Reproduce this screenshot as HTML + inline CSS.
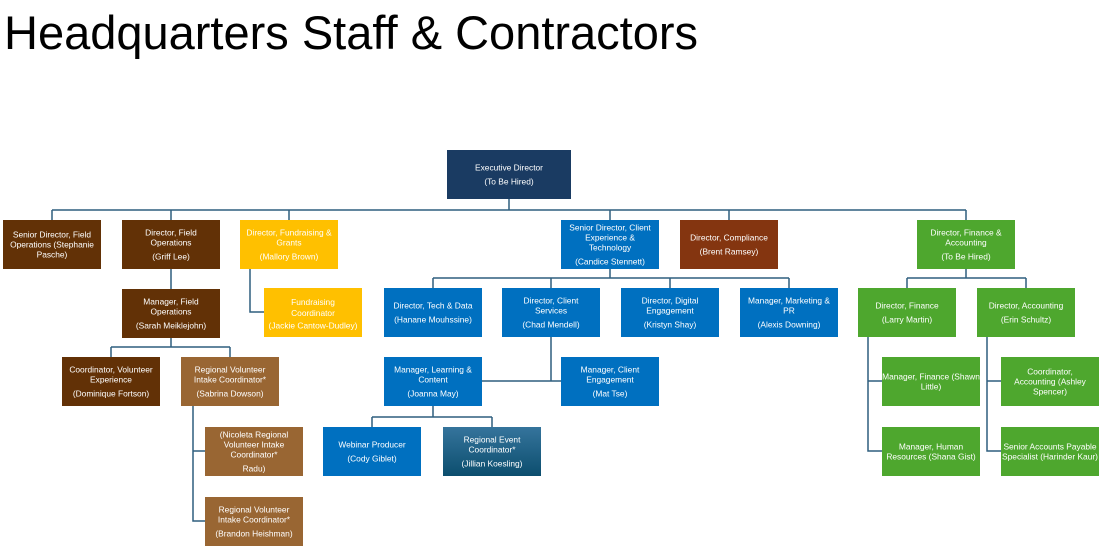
<!DOCTYPE html>
<html><head><meta charset="utf-8"><style>
html,body{margin:0;padding:0;background:#fff;width:1107px;height:553px;overflow:hidden}
h1{position:absolute;left:4px;top:5px;margin:0;font:400 47px "Liberation Sans",sans-serif;color:#000;letter-spacing:0px}
svg{position:absolute;left:0;top:0}
text{font-family:"Liberation Sans",sans-serif;font-size:8.4px;fill:#fff;text-anchor:middle}
</style></head><body>
<h1>Headquarters Staff &amp; Contractors</h1>
<svg width="1107" height="553" viewBox="0 0 1107 553">
<defs><linearGradient id="g" x1="0" y1="0" x2="0" y2="1"><stop offset="0" stop-color="#35749c"/><stop offset="1" stop-color="#0c4e6e"/></linearGradient></defs>
<g stroke="#2f5f7f" stroke-width="1.5" fill="none">
<path d="M509 199V210M52 210H966M52 210V220M171 210V220M289 210V220M610 210V220M729 210V220M966 210V220"/>
<path d="M171 269V289M171 338V347M111 347H230M111 347V357M230 347V357"/>
<path d="M250 269V312H264"/>
<path d="M193 406V521H205M193 451H205"/>
<path d="M610 269V278M433 278H789M433 278V288M551 278V288M670 278V288M789 278V288"/>
<path d="M551 337V381M482 381H561"/>
<path d="M433 406V417M372 417H492M372 417V427M492 417V427"/>
<path d="M966 269V278M907 278H1026M907 278V288M1026 278V288"/>
<path d="M868 337V451H882M868 381H882"/>
<path d="M987 337V451H1001M987 381H1001"/>
</g>
<rect x="447" y="150" width="124" height="49" fill="#1a3b62"/>
<text x="509" y="170.5">Executive Director</text><text x="509" y="184.5">(To Be Hired)</text>

<rect x="3" y="220" width="98" height="49" fill="#623106"/>
<text x="52" y="237.5">Senior Director, Field</text><text x="52" y="247.5">Operations (Stephanie</text><text x="52" y="257.5">Pasche)</text>

<rect x="122" y="220" width="98" height="49" fill="#623106"/>
<text x="171" y="235.5">Director, Field</text><text x="171" y="245.5">Operations</text><text x="171" y="259.5">(Griff Lee)</text>

<rect x="240" y="220" width="98" height="49" fill="#ffc000"/>
<text x="289" y="235.5">Director, Fundraising &amp;</text><text x="289" y="245.5">Grants</text><text x="289" y="259.5">(Mallory Brown)</text>

<rect x="561" y="220" width="98" height="49" fill="#0070c0"/>
<text x="610" y="230.5">Senior Director, Client</text><text x="610" y="240.5">Experience &amp;</text><text x="610" y="250.5">Technology</text><text x="610" y="264.5">(Candice Stennett)</text>

<rect x="680" y="220" width="98" height="49" fill="#843510"/>
<text x="729" y="240.5">Director, Compliance</text><text x="729" y="254.5">(Brent Ramsey)</text>

<rect x="917" y="220" width="98" height="49" fill="#4ea72e"/>
<text x="966" y="235.5">Director, Finance &amp;</text><text x="966" y="245.5">Accounting</text><text x="966" y="259.5">(To Be Hired)</text>

<rect x="122" y="289" width="98" height="49" fill="#623106"/>
<text x="171" y="304.5">Manager, Field</text><text x="171" y="314.5">Operations</text><text x="171" y="328.5">(Sarah Meiklejohn)</text>

<rect x="264" y="288" width="98" height="49" fill="#ffc000"/>
<text x="313" y="305">Fundraising</text><text x="313" y="316">Coordinator</text><text x="313" y="328.5">(Jackie Cantow-Dudley)</text>

<rect x="384" y="288" width="98" height="49" fill="#0070c0"/>
<text x="433" y="308.5">Director, Tech &amp; Data</text><text x="433" y="322.5">(Hanane Mouhssine)</text>

<rect x="502" y="288" width="98" height="49" fill="#0070c0"/>
<text x="551" y="303.5">Director, Client</text><text x="551" y="313.5">Services</text><text x="551" y="327.5">(Chad Mendell)</text>

<rect x="621" y="288" width="98" height="49" fill="#0070c0"/>
<text x="670" y="303.5">Director, Digital</text><text x="670" y="313.5">Engagement</text><text x="670" y="327.5">(Kristyn Shay)</text>

<rect x="740" y="288" width="98" height="49" fill="#0070c0"/>
<text x="789" y="303.5">Manager, Marketing &amp;</text><text x="789" y="313.5">PR</text><text x="789" y="327.5">(Alexis Downing)</text>

<rect x="858" y="288" width="98" height="49" fill="#4ea72e"/>
<text x="907" y="308.5">Director, Finance</text><text x="907" y="322.5">(Larry Martin)</text>

<rect x="977" y="288" width="98" height="49" fill="#4ea72e"/>
<text x="1026" y="308.5">Director, Accounting</text><text x="1026" y="322.5">(Erin Schultz)</text>

<rect x="62" y="357" width="98" height="49" fill="#623106"/>
<text x="111" y="372.5">Coordinator, Volunteer</text><text x="111" y="382.5">Experience</text><text x="111" y="396.5">(Dominique Fortson)</text>

<rect x="181" y="357" width="98" height="49" fill="#996633"/>
<text x="230" y="372.5">Regional Volunteer</text><text x="230" y="382.5">Intake Coordinator*</text><text x="230" y="396.5">(Sabrina Dowson)</text>

<rect x="384" y="357" width="98" height="49" fill="#0070c0"/>
<text x="433" y="372.5">Manager, Learning &amp;</text><text x="433" y="382.5">Content</text><text x="433" y="396.5">(Joanna May)</text>

<rect x="561" y="357" width="98" height="49" fill="#0070c0"/>
<text x="610" y="372.5">Manager, Client</text><text x="610" y="382.5">Engagement</text><text x="610" y="396.5">(Mat Tse)</text>

<rect x="882" y="357" width="98" height="49" fill="#4ea72e"/>
<text x="931" y="379.5">Manager, Finance (Shawn</text><text x="931" y="389.5">Little)</text>

<rect x="1001" y="357" width="98" height="49" fill="#4ea72e"/>
<text x="1050" y="374.5">Coordinator,</text><text x="1050" y="384.5">Accounting  (Ashley</text><text x="1050" y="394.5">Spencer)</text>

<rect x="205" y="427" width="98" height="49" fill="#996633"/>
<text x="254" y="437.5">(Nicoleta Regional</text><text x="254" y="447.5">Volunteer Intake</text><text x="254" y="457.5">Coordinator*</text><text x="254" y="471.5">Radu)</text>

<rect x="323" y="427" width="98" height="49" fill="#0070c0"/>
<text x="372" y="447.5">Webinar Producer</text><text x="372" y="461.5">(Cody Giblet)</text>

<rect x="443" y="427" width="98" height="49" fill="url(#g)"/>
<text x="492" y="442.5">Regional Event</text><text x="492" y="452.5">Coordinator*</text><text x="492" y="466.5">(Jillian Koesling)</text>

<rect x="882" y="427" width="98" height="49" fill="#4ea72e"/>
<text x="931" y="449.5">Manager, Human</text><text x="931" y="459.5">Resources (Shana Gist)</text>

<rect x="1001" y="427" width="98" height="49" fill="#4ea72e"/>
<text x="1050" y="449.5">Senior Accounts Payable</text><text x="1050" y="459.5">Specialist (Harinder Kaur)</text>

<rect x="205" y="497" width="98" height="49" fill="#996633"/>
<text x="254" y="512.5">Regional Volunteer</text><text x="254" y="522.5">Intake Coordinator*</text><text x="254" y="536.5">(Brandon Heishman)</text>
</svg>
</body></html>
